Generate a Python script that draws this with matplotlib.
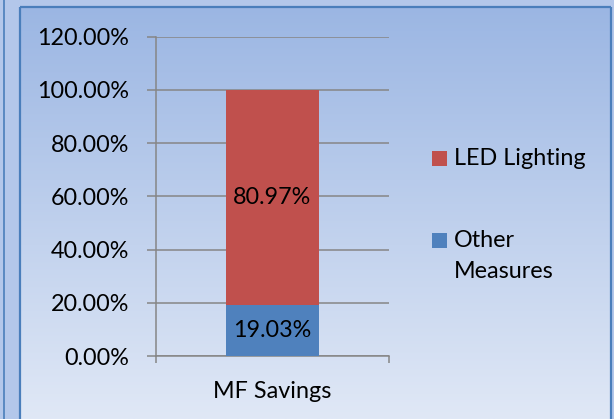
import numpy as np
import matplotlib
matplotlib.use("Agg")
import matplotlib.pyplot as plt
from matplotlib.patches import Rectangle

# ---- data ----
categories = ["MF Savings"]
series_names = ["Other Measures", "LED Lighting"]
other_measures = [0.1903]
led_lighting = [0.8097]
series_colors = ["#4f81bd", "#c0504d"]
yticks = [0.0, 0.2, 0.4, 0.6, 0.8, 1.0, 1.2]

W, H = 614, 419
plt.rcParams['font.family'] = ['Lato', 'DejaVu Sans']
FS = 16.8

fig = plt.figure(figsize=(W / 100, H / 100), dpi=100)
fig.patch.set_facecolor("#b3c7ea")

# background / frame in pixel coordinates
bg = fig.add_axes([0, 0, 1, 1], zorder=-5)
bg.set_xlim(0, W)
bg.set_ylim(H, 0)
bg.axis("off")
top = np.array([0x9b, 0xb6, 0xe3]) / 255
bot = np.array([0xe0, 0xe8, 0xf6]) / 255
t = np.linspace(0, 1, 256)[:, None]
grad = (top[None, :] * (1 - t) + bot[None, :] * t)[:, None, :]
bg.imshow(grad, extent=[20, 611, H, 7], aspect="auto", interpolation="bilinear", zorder=0)
border = "#4a7ebb"
bg.plot([20, 20], [7, H], color=border, lw=1.6, zorder=2, solid_capstyle="butt")
bg.plot([20, 611], [7, 7], color=border, lw=1.6, zorder=2, solid_capstyle="butt")
bg.plot([611, 611], [7, H], color=border, lw=1.6, zorder=2, solid_capstyle="butt")
bg.plot([3.5, 3.5], [0, H], color=border, lw=1.2, zorder=2)

# main axes
ax = fig.add_axes([156 / W, (H - 356) / H, 233 / W, (356 - 36.7) / H])
ax.set_facecolor("none")
x = np.arange(len(categories))
width = 0.403
b1 = ax.bar(x, other_measures, width, color=series_colors[0], zorder=3)
b2 = ax.bar(x, led_lighting, width, bottom=other_measures, color=series_colors[1], zorder=3)
for bars, vals, bottoms in ((b1, other_measures, [0] * len(x)), (b2, led_lighting, other_measures)):
    for xi, v, b0 in zip(x, vals, bottoms):
        ax.text(xi, b0 + v / 2, f"{v * 100:.2f}%", ha="center", va="center",
                fontsize=FS, color="black", zorder=4)

ax.set_xlim(-0.5, 0.5)
ax.set_ylim(0, 1.2)
ax.set_yticks(yticks)
ax.set_yticklabels([f"{v * 100:.2f}%" for v in yticks])
ax.yaxis.grid(True, color="#868686", lw=1.1, zorder=1)
for s in ("top", "right"):
    ax.spines[s].set_visible(False)
for s in ("left", "bottom"):
    ax.spines[s].set_color("#868686")
    ax.spines[s].set_linewidth(1.1)
ax.tick_params(axis="y", length=6.5, width=1.1, color="#868686", pad=13, labelsize=FS)
ax.set_xticks(x)
ax.set_xticklabels(categories)
ax.tick_params(axis="x", which="major", length=0, pad=18, labelsize=FS)
ax.set_xticks([-0.5, 0.5], minor=True)
ax.tick_params(axis="x", which="minor", length=5, width=1.1, color="#868686")

# legend (drawn manually: Excel style, marker aligned with first line)
leg_y = [240, 158]
for name, col, yy in zip(series_names, series_colors, leg_y):
    bg.add_patch(Rectangle((432, yy - 7), 14.5, 14.5, facecolor=col, edgecolor="none", zorder=3))
    words = name.split(" ")
    lines = [name] if len(name) <= 12 else words
    for k, ln in enumerate(lines):
        bg.text(454, yy + k * 31, ln, ha="left", va="center", fontsize=FS, zorder=3)

fig.savefig("out.png", dpi=100)
